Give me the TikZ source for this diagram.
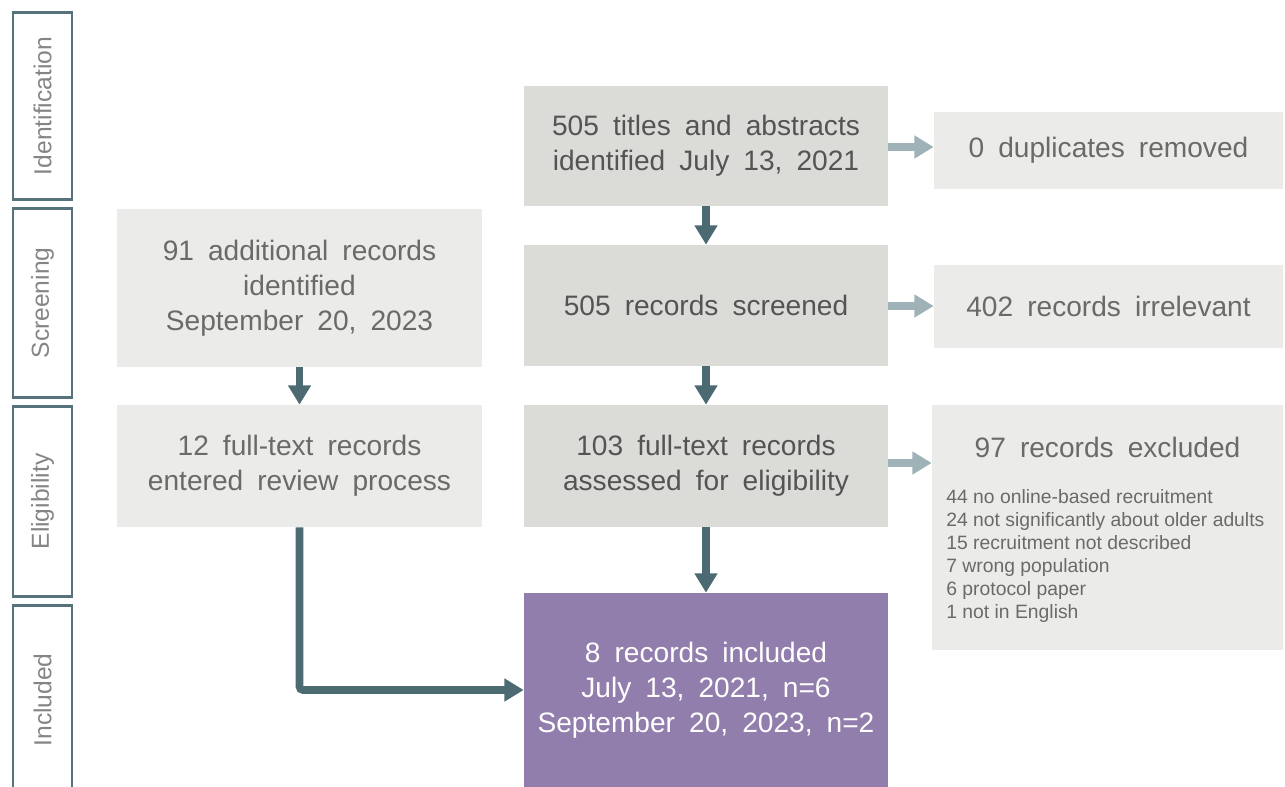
\documentclass[tikz,border=0pt]{standalone}
\usepackage{fontspec}
\setmainfont{Liberation Sans}
\usetikzlibrary{arrows.meta, positioning}

\definecolor{boxdark}{HTML}{DBDBD7}
\definecolor{boxlight}{HTML}{EBEBE9}
\definecolor{boxpurple}{HTML}{927EAD}
\definecolor{textdark}{HTML}{545454}
\definecolor{textlight}{HTML}{6A6A66}
\definecolor{arrowdark}{HTML}{4C6A71}
\definecolor{arrowlight}{HTML}{9EB2B8}
\definecolor{phaseline}{HTML}{56727A}
\definecolor{phasetext}{HTML}{858585}

\newcommand{\bigtext}{\fontsize{16}{19.8}\selectfont\spaceskip=0.5em plus 0.1em minus 0.05em}

\tikzset{
  phase/.style={draw=phaseline, line width=1.7pt, rotate=90, minimum height=1.18cm,
    text=phasetext, font=\fontsize{14}{16}\selectfont, inner sep=0pt},
  mainbox/.style={fill=boxdark, text=textdark, align=center, font=\bigtext,
    minimum width=7.28cm, inner sep=0pt},
  sidebox/.style={fill=boxlight, text=textlight, align=center, font=\bigtext, inner sep=0pt},
  flow/.style={draw=arrowdark, line width=4.4pt, -{Triangle[width=12.5pt,length=11pt]}},
  reject/.style={draw=arrowlight, line width=4.4pt, -{Triangle[width=12.5pt,length=11pt]}}
}

\begin{document}
\begin{tikzpicture}[x=0.02cm, y=-0.02cm]
  \useasboundingbox (0,0) rectangle (1285,787);

  % Phase labels
  \node[phase, minimum width=3.76cm] (pident) at (42.5,106) {Identification};
  \node[phase, minimum width=3.80cm] (pscreen) at (42.5,303) {Screening};
  \node[phase, minimum width=3.82cm] (pelig) at (42.5,501.5) {Eligibility};
  \node[phase, minimum width=3.80cm] (pincl) at (42.5,700) {Included};

  % Main stream
  \node[mainbox, minimum height=2.4cm] (ident) at (706,146) {505 titles and abstracts\\identified July 13, 2021};
  \node[mainbox, minimum height=2.42cm] (screen) at (706,305.5) {505 records screened};
  \node[mainbox, minimum height=2.44cm] (assess) at (706,466) {103 full-text records\\assessed for eligibility};
  \node[mainbox, fill=boxpurple, text=white, minimum height=3.88cm] (incl) at (706,690) {8 records included\\July 13, 2021, n=6\\September 20, 2023, n=2};

  % Second search
  \node[sidebox, minimum width=7.3cm, minimum height=3.16cm] (addl) at (299.5,288) {91 additional records\\identified\\September 20, 2023};
  \node[sidebox, minimum width=7.3cm, minimum height=2.44cm] (entered) at (299.5,466) {12 full-text records\\entered review process};

  % Removed records
  \node[sidebox, minimum width=6.98cm, minimum height=1.54cm] (dup) at (1108.5,150.5) {0 duplicates removed};
  \node[sidebox, minimum width=6.98cm, minimum height=1.66cm] (irrel) at (1108.5,306.5) {402 records irrelevant};
  \node[sidebox, minimum width=7.02cm, minimum height=4.9cm] (excl) at (1107.5,527.5) {};
  \node[text=textlight, font=\bigtext] (excltitle) at (1107.5,447) {97 records excluded};
  \node[text=textlight, font=\fontsize{11}{13.1}\selectfont, align=left, anchor=north west, inner sep=0pt]
    (excllist) at (946,489) {44 no online-based recruitment\\24 not significantly about older adults\\15 recruitment not described\\7 wrong population\\6 protocol paper\\1 not in English};

  % Connections
  \draw[flow] (ident) -- (screen);
  \draw[flow] (screen) -- (assess);
  \draw[flow] (assess) -- (incl);
  \draw[flow] (addl) -- (entered);
  \draw[flow, rounded corners=2pt] (entered.south) |- (incl.west);
  \draw[reject] (ident.east |- 0,147) -- (dup.west |- 0,147);
  \draw[reject] (screen.east |- 0,306) -- (irrel.west |- 0,306);
  \draw[reject] (assess.east |- 0,463) -- (excl.west |- 0,463);
\end{tikzpicture}
\end{document}
